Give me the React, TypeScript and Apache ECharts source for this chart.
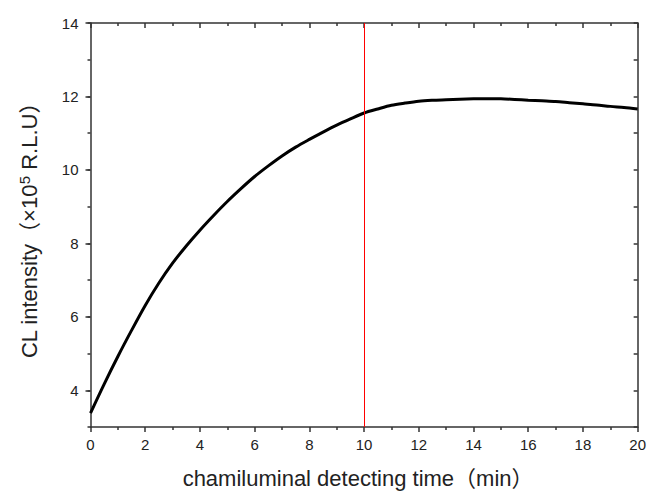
import React, { useEffect, useRef } from "react";
import * as echarts from "echarts";

const timeMin = [0, 0.5, 1, 1.5, 2, 2.5, 3, 3.5, 4, 4.5, 5, 5.5, 6, 6.5, 7, 7.5, 8, 8.5, 9, 9.5, 10, 10.5, 11, 11.5, 12, 12.5, 13, 13.5, 14, 14.5, 15, 15.5, 16, 16.5, 17, 17.5, 18, 18.5, 19, 19.5, 20];
const intensity = [3.38, 4.17, 4.92, 5.63, 6.31, 6.92, 7.46, 7.93, 8.36, 8.76, 9.14, 9.49, 9.82, 10.11, 10.38, 10.62, 10.83, 11.03, 11.22, 11.39, 11.55, 11.66, 11.76, 11.82, 11.87, 11.895, 11.91, 11.925, 11.935, 11.94, 11.935, 11.92, 11.9, 11.88, 11.86, 11.83, 11.8, 11.77, 11.73, 11.7, 11.66];
const markerTime = 10;
const yMajorTicks = [4, 6, 8, 10, 12, 14];

const FONT = "Arial, 'Liberation Sans', 'Noto Sans CJK SC', sans-serif";
const AX = "#333";

export default function App() {
  const ref = useRef<HTMLDivElement>(null);
  useEffect(() => {
    const chart = echarts.init(ref.current!, undefined, { renderer: "svg" });
    const data = timeMin.map((t, i) => [t, intensity[i]]);
    chart.setOption({
      animation: false,
      backgroundColor: "#fff",
      grid: { left: 90.5, right: 9, top: 23, bottom: 62.5, containLabel: false },
      xAxis: [
        {
          type: "value",
          position: "bottom",
          min: 0,
          max: 20,
          interval: 2,
          name: "chamiluminal detecting time（min）",
          nameLocation: "middle",
          nameGap: 40,
          nameTextStyle: { fontFamily: FONT, fontSize: 22, color: "#222", padding: [0, 12, 0, 0] },
          axisLine: { show: true, onZero: false, lineStyle: { color: AX, width: 1.5 } },
          axisTick: { show: true, inside: false, length: 5, lineStyle: { color: AX, width: 1.5 } },
          minorTick: { show: true, splitNumber: 2, length: 3, lineStyle: { color: AX, width: 1.5 } },
          axisLabel: { fontFamily: FONT, fontSize: 15, color: "#222", margin: 10 },
          splitLine: { show: false },
          minorSplitLine: { show: false },
        },
        {
          type: "value",
          position: "top",
          min: 0,
          max: 20,
          interval: 2,
          axisLine: { show: true, onZero: false, lineStyle: { color: AX, width: 1.5 } },
          axisTick: { show: true, inside: true, length: 5, lineStyle: { color: AX, width: 1.5 } },
          minorTick: { show: true, splitNumber: 2, length: 3, lineStyle: { color: AX, width: 1.5 } },
          axisLabel: { show: false },
          splitLine: { show: false },
        },
      ],
      yAxis: [
        {
          type: "value",
          position: "left",
          min: 3,
          max: 14,
          interval: 1,
          name: "CL intensity（×10{sup|5} R.L.U）",
          nameLocation: "middle",
          nameGap: 48,
          nameTextStyle: {
            fontFamily: FONT,
            fontSize: 22,
            color: "#222",
            lineHeight: 26,
            rich: {
              sup: { fontFamily: FONT, fontSize: 15, color: "#222", verticalAlign: "top", lineHeight: 26, padding: [0, 0, 11, 0] },
            },
          },
          axisLine: { show: true, onZero: false, lineStyle: { color: AX, width: 1.5 } },
          axisTick: { show: true, inside: false, length: 3, lineStyle: { color: AX, width: 1.5 } },
          axisLabel: {
            fontFamily: FONT,
            fontSize: 15,
            color: "#222",
            margin: 12,
            formatter: (v: number) => (v % 2 === 0 ? String(v) : ""),
          },
          splitLine: { show: false },
        },
        {
          type: "value",
          position: "left",
          min: 3,
          max: 14,
          interval: 1,
          axisLine: { show: false },
          axisTick: { show: true, inside: false, length: 5, customValues: yMajorTicks, lineStyle: { color: AX, width: 1.5 } },
          axisLabel: { show: false },
          splitLine: { show: false },
        },
        {
          type: "value",
          position: "right",
          min: 3,
          max: 14,
          interval: 1,
          axisLine: { show: true, onZero: false, lineStyle: { color: AX, width: 1.5 } },
          axisTick: { show: true, inside: true, length: 4, lineStyle: { color: AX, width: 1.5 } },
          axisLabel: { show: false },
          splitLine: { show: false },
        },
      ],
      series: [
        {
          type: "line",
          xAxisIndex: 0,
          yAxisIndex: 0,
          data,
          smooth: 0.3,
          showSymbol: false,
          symbol: "none",
          lineStyle: { color: "#000", width: 3 },
          markLine: {
            silent: true,
            symbol: ["none", "none"],
            label: { show: false },
            lineStyle: { color: "#ff0000", width: 1, type: "solid" },
            data: [{ xAxis: markerTime }],
          },
        },
      ],
    });
    return () => chart.dispose();
  }, []);
  return <div ref={ref} style={{ width: 649, height: 494, position: "absolute", left: 0, top: 0 }} />;
}
